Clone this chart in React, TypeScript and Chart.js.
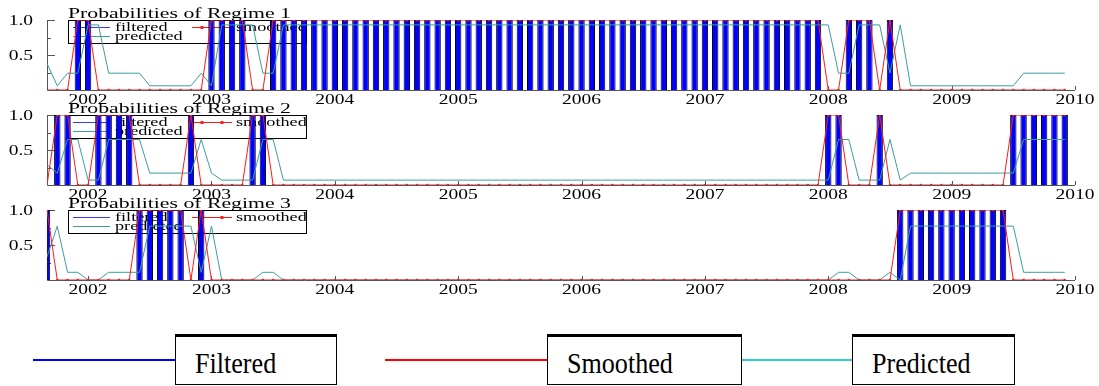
import React, { useEffect, useRef } from 'react';
import { Chart, registerables } from 'chart.js';

Chart.register(...registerables);

// Monthly observations: index 0 = Sep 2001 ... index 99 = Dec 2009
const yearTickIndex = [4, 16, 28, 40, 52, 64, 76, 88, 100];
const yearTickLabels = ['2002', '2003', '2004', '2005', '2006', '2007', '2008', '2009', '2010'];
const yTickValues = [0.5, 1.0];
const yTickLabels = ['0.5', '1.0'];
const panelTitles = ['Probabilities of Regime 1', 'Probabilities of Regime 2', 'Probabilities of Regime 3'];
const seriesNames = ['Filtered', 'Smoothed', 'Predicted'];
const panelSeriesNames = ['filtered', 'smoothed', 'predicted'];

const filtered1 = [
  0, 0, 0, 1, 1, 0, 0, 0, 0, 0,
  0, 0, 0, 0, 0, 0, 1, 1, 1, 1,
  0, 0, 1, 1, 1, 1, 1, 1, 1, 1,
  1, 1, 1, 1, 1, 1, 1, 1, 1, 1,
  1, 1, 1, 1, 1, 1, 1, 1, 1, 1,
  1, 1, 1, 1, 1, 1, 1, 1, 1, 1,
  1, 1, 1, 1, 1, 1, 1, 1, 1, 1,
  1, 1, 1, 1, 1, 1, 0, 0, 1, 1,
  1, 0, 1, 0, 0, 0, 0, 0, 0, 0,
  0, 0, 0, 0, 0, 0, 0, 0, 0, 0,
];
const smoothed1 = [
  0, 0, 0, 1, 1, 0, 0, 0, 0, 0,
  0, 0, 0, 0, 0, 0, 1, 1, 1, 1,
  0, 0, 1, 1, 1, 1, 1, 1, 1, 1,
  1, 1, 1, 1, 1, 1, 1, 1, 1, 1,
  1, 1, 1, 1, 1, 1, 1, 1, 1, 1,
  1, 1, 1, 1, 1, 1, 1, 1, 1, 1,
  1, 1, 1, 1, 1, 1, 1, 1, 1, 1,
  1, 1, 1, 1, 1, 1, 0, 0, 1, 1,
  1, 0, 1, 0, 0, 0, 0, 0, 0, 0,
  0, 0, 0, 0, 0, 0, 0, 0, 0, 0,
];
const predicted1 = [
  0.38, 0.06, 0.24, 0.24, 0.93, 0.93, 0.24, 0.24, 0.24, 0.24,
  0.06, 0.06, 0.06, 0.06, 0.06, 0.24, 0.06, 0.93, 0.93, 0.93,
  0.93, 0.24, 0.24, 0.93, 0.93, 0.93, 0.93, 0.93, 0.93, 0.93,
  0.93, 0.93, 0.93, 0.93, 0.93, 0.93, 0.93, 0.93, 0.93, 0.93,
  0.93, 0.93, 0.93, 0.93, 0.93, 0.93, 0.93, 0.93, 0.93, 0.93,
  0.93, 0.93, 0.93, 0.93, 0.93, 0.93, 0.93, 0.93, 0.93, 0.93,
  0.93, 0.93, 0.93, 0.93, 0.93, 0.93, 0.93, 0.93, 0.93, 0.93,
  0.93, 0.93, 0.93, 0.93, 0.93, 0.93, 0.93, 0.24, 0.24, 0.93,
  0.93, 0.93, 0.24, 0.93, 0.06, 0.06, 0.06, 0.06, 0.06, 0.06,
  0.06, 0.06, 0.06, 0.06, 0.06, 0.24, 0.24, 0.24, 0.24, 0.24,
];

const filtered2 = [
  0, 1, 1, 0, 0, 1, 1, 1, 1, 0,
  0, 0, 0, 0, 1, 0, 0, 0, 0, 0,
  1, 1, 0, 0, 0, 0, 0, 0, 0, 0,
  0, 0, 0, 0, 0, 0, 0, 0, 0, 0,
  0, 0, 0, 0, 0, 0, 0, 0, 0, 0,
  0, 0, 0, 0, 0, 0, 0, 0, 0, 0,
  0, 0, 0, 0, 0, 0, 0, 0, 0, 0,
  0, 0, 0, 0, 0, 0, 1, 1, 0, 0,
  0, 1, 0, 0, 0, 0, 0, 0, 0, 0,
  0, 0, 0, 0, 1, 1, 1, 1, 1, 1,
];
const smoothed2 = [
  0, 1, 1, 0, 0, 1, 1, 1, 1, 0,
  0, 0, 0, 0, 1, 0, 0, 0, 0, 0,
  1, 1, 0, 0, 0, 0, 0, 0, 0, 0,
  0, 0, 0, 0, 0, 0, 0, 0, 0, 0,
  0, 0, 0, 0, 0, 0, 0, 0, 0, 0,
  0, 0, 0, 0, 0, 0, 0, 0, 0, 0,
  0, 0, 0, 0, 0, 0, 0, 0, 0, 0,
  0, 0, 0, 0, 0, 0, 1, 1, 0, 0,
  0, 1, 0, 0, 0, 0, 0, 0, 0, 0,
  0, 0, 0, 0, 1, 1, 1, 1, 1, 1,
];
const predicted2 = [
  0.29, 0.17, 0.65, 0.65, 0.07, 0.07, 0.65, 0.65, 0.65, 0.65,
  0.17, 0.17, 0.17, 0.17, 0.17, 0.65, 0.17, 0.07, 0.07, 0.07,
  0.07, 0.65, 0.65, 0.07, 0.07, 0.07, 0.07, 0.07, 0.07, 0.07,
  0.07, 0.07, 0.07, 0.07, 0.07, 0.07, 0.07, 0.07, 0.07, 0.07,
  0.07, 0.07, 0.07, 0.07, 0.07, 0.07, 0.07, 0.07, 0.07, 0.07,
  0.07, 0.07, 0.07, 0.07, 0.07, 0.07, 0.07, 0.07, 0.07, 0.07,
  0.07, 0.07, 0.07, 0.07, 0.07, 0.07, 0.07, 0.07, 0.07, 0.07,
  0.07, 0.07, 0.07, 0.07, 0.07, 0.07, 0.07, 0.65, 0.65, 0.07,
  0.07, 0.07, 0.65, 0.07, 0.17, 0.17, 0.17, 0.17, 0.17, 0.17,
  0.17, 0.17, 0.17, 0.17, 0.17, 0.65, 0.65, 0.65, 0.65, 0.65,
];

const filtered3 = [
  1, 0, 0, 0, 0, 0, 0, 0, 0, 1,
  1, 1, 1, 1, 0, 1, 0, 0, 0, 0,
  0, 0, 0, 0, 0, 0, 0, 0, 0, 0,
  0, 0, 0, 0, 0, 0, 0, 0, 0, 0,
  0, 0, 0, 0, 0, 0, 0, 0, 0, 0,
  0, 0, 0, 0, 0, 0, 0, 0, 0, 0,
  0, 0, 0, 0, 0, 0, 0, 0, 0, 0,
  0, 0, 0, 0, 0, 0, 0, 0, 0, 0,
  0, 0, 0, 1, 1, 1, 1, 1, 1, 1,
  1, 1, 1, 1, 0, 0, 0, 0, 0, 0,
];
const smoothed3 = [
  1, 0, 0, 0, 0, 0, 0, 0, 0, 1,
  1, 1, 1, 1, 0, 1, 0, 0, 0, 0,
  0, 0, 0, 0, 0, 0, 0, 0, 0, 0,
  0, 0, 0, 0, 0, 0, 0, 0, 0, 0,
  0, 0, 0, 0, 0, 0, 0, 0, 0, 0,
  0, 0, 0, 0, 0, 0, 0, 0, 0, 0,
  0, 0, 0, 0, 0, 0, 0, 0, 0, 0,
  0, 0, 0, 0, 0, 0, 0, 0, 0, 0,
  0, 0, 0, 1, 1, 1, 1, 1, 1, 1,
  1, 1, 1, 1, 0, 0, 0, 0, 0, 0,
];
const predicted3 = [
  0.33, 0.77, 0.11, 0.11, 0.0, 0.0, 0.11, 0.11, 0.11, 0.11,
  0.77, 0.77, 0.77, 0.77, 0.77, 0.11, 0.77, 0.0, 0.0, 0.0,
  0.0, 0.11, 0.11, 0.0, 0.0, 0.0, 0.0, 0.0, 0.0, 0.0,
  0.0, 0.0, 0.0, 0.0, 0.0, 0.0, 0.0, 0.0, 0.0, 0.0,
  0.0, 0.0, 0.0, 0.0, 0.0, 0.0, 0.0, 0.0, 0.0, 0.0,
  0.0, 0.0, 0.0, 0.0, 0.0, 0.0, 0.0, 0.0, 0.0, 0.0,
  0.0, 0.0, 0.0, 0.0, 0.0, 0.0, 0.0, 0.0, 0.0, 0.0,
  0.0, 0.0, 0.0, 0.0, 0.0, 0.0, 0.0, 0.11, 0.11, 0.0,
  0.0, 0.0, 0.11, 0.0, 0.77, 0.77, 0.77, 0.77, 0.77, 0.77,
  0.77, 0.77, 0.77, 0.77, 0.77, 0.11, 0.11, 0.11, 0.11, 0.11,
];

const SERIF = '"Liberation Serif", "Times New Roman", serif';
const BAR_BLUE = '#0000ff';
const RED = '#ff1a1a';
const TEAL = '#3c9e9e';

function drawText(ctx: any, text: string, x: number, y: number, size: number, sx: number, align: string, baseline: string) {
  ctx.save();
  ctx.translate(x, y);
  ctx.scale(sx, 1);
  ctx.font = `${size}px ${SERIF}`;
  ctx.textAlign = align;
  ctx.textBaseline = baseline;
  ctx.fillStyle = '#000';
  ctx.fillText(text, 0, 0);
  ctx.restore();
}

function Panel({ title, filtered, smoothed, predicted, top }: any) {
  const ref = useRef<HTMLCanvasElement | null>(null);
  useEffect(() => {
    const canvas = ref.current;
    if (!canvas) return;
    const decor = {
      id: 'decor',
      beforeDatasetsDraw(chart: any) {
        const { ctx, chartArea: a, scales } = chart;
        const t = a.top;
        ctx.save();
        // in-panel legend box (drawn under the data)
        ctx.fillStyle = '#fff';
        ctx.fillRect(68, t + 0.5, 238, 23);
        ctx.strokeStyle = '#000';
        ctx.lineWidth = 1;
        ctx.strokeRect(68.5, t + 0.5, 238, 23);
        ctx.strokeStyle = '#3a3aff';
        ctx.beginPath(); ctx.moveTo(73, t + 7.5); ctx.lineTo(110, t + 7.5); ctx.stroke();
        ctx.strokeStyle = TEAL;
        ctx.beginPath(); ctx.moveTo(73, t + 16.5); ctx.lineTo(110, t + 16.5); ctx.stroke();
        ctx.strokeStyle = RED;
        ctx.beginPath(); ctx.moveTo(192, t + 7.5); ctx.lineTo(232, t + 7.5); ctx.stroke();
        ctx.fillStyle = RED;
        ctx.fillRect(200.5, t + 6, 3, 3);
        ctx.fillRect(220.5, t + 6, 3, 3);
        drawText(ctx, panelSeriesNames[0], 115, t + 7.5, 13, 1.4, 'left', 'middle');
        drawText(ctx, panelSeriesNames[2], 115, t + 16.5, 13, 1.4, 'left', 'middle');
        drawText(ctx, panelSeriesNames[1], 236, t + 7.5, 13, 1.4, 'left', 'middle');

        // axes
        const x = scales.x;
        const y = scales.y;
        ctx.strokeStyle = '#555';
        ctx.lineWidth = 1;
        ctx.beginPath();
        ctx.moveTo(a.left + 0.5, a.top);
        ctx.lineTo(a.left + 0.5, a.bottom + 0.5);
        ctx.lineTo(a.right, a.bottom + 0.5);
        ctx.stroke();
        // y ticks (inward)
        [0.25, 0.5, 0.75, 1.0].forEach((v) => {
          const py = Math.round(y.getPixelForValue(v)) + 0.5;
          const len = v === 0.5 || v === 1.0 ? 8 : 4;
          ctx.beginPath(); ctx.moveTo(a.left, py); ctx.lineTo(a.left + len, py); ctx.stroke();
        });
        // x ticks (inward)
        yearTickIndex.forEach((v) => {
          const px = Math.round(x.getPixelForValue(v)) + 0.5;
          ctx.beginPath(); ctx.moveTo(px, a.bottom); ctx.lineTo(px, a.bottom - 4); ctx.stroke();
        });
        ctx.restore();
      },
      afterDraw(chart: any) {
        const { ctx, chartArea: a, scales } = chart;
        const x = scales.x;
        const y = scales.y;
        yTickValues.forEach((v, i) => {
          drawText(ctx, yTickLabels[i], 33, y.getPixelForValue(v) + 1, 15, 1.3, 'right', 'middle');
        });
        yearTickIndex.forEach((v, i) => {
          drawText(ctx, yearTickLabels[i], x.getPixelForValue(v), a.bottom + 10, 15, 1.3, 'center', 'middle');
        });
        drawText(ctx, title, 68, a.top - 2, 14.5, 1.5, 'left', 'alphabetic');
      },
    };

    const chart = new Chart(canvas, {
      data: {
        datasets: [
          {
            type: 'line',
            label: panelSeriesNames[1],
            data: smoothed.map((v: number, i: number) => ({ x: i, y: v })),
            borderColor: RED,
            borderWidth: 1,
            pointRadius: 1.6,
            pointStyle: 'rect',
            pointBackgroundColor: RED,
            pointBorderWidth: 0,
            tension: 0,
            order: 1,
          },
          {
            type: 'line',
            label: panelSeriesNames[2],
            data: predicted.map((v: number, i: number) => ({ x: i, y: v })),
            borderColor: TEAL,
            borderWidth: 1,
            pointRadius: 0,
            tension: 0,
            order: 2,
          },
          {
            type: 'bar',
            label: panelSeriesNames[0],
            data: filtered.map((v: number, i: number) => ({ x: i, y: v > 0 ? v : null })),
            backgroundColor: BAR_BLUE,
            borderColor: '#000',
            borderWidth: 1,
            barPercentage: 0.62,
            categoryPercentage: 1,
            order: 3,
          },
        ],
      } as any,
      options: {
        responsive: false,
        animation: false,
        devicePixelRatio: 1,
        layout: { padding: { left: 0, right: 24, top: 20, bottom: 0 } },
        plugins: { legend: { display: false }, tooltip: { enabled: false }, title: { display: false } },
        scales: {
          x: {
            type: 'linear',
            offset: false,
            min: 0,
            max: 100,
            grid: { display: false, offset: false },
            border: { display: false },
            ticks: { display: false },
            afterFit: (s: any) => { s.height = 20; },
          },
          y: {
            type: 'linear',
            min: 0,
            max: 1,
            grid: { display: false },
            border: { display: false },
            ticks: { display: false },
            afterFit: (s: any) => { s.width = 47; },
          },
        },
      } as any,
      plugins: [decor],
    });
    return () => chart.destroy();
  }, [title, filtered, smoothed, predicted]);

  return (
    <canvas
      ref={ref}
      width={1099}
      height={110}
      style={{ position: 'absolute', left: 0, top, width: 1099, height: 110 }}
    />
  );
}

function BottomLegend() {
  const line = (left: number, width: number, color: string) => (
    <div style={{ position: 'absolute', left, top: 359, width, height: 2, background: color }} />
  );
  const box = (left: number, width: number, text: string) => (
    <div
      style={{
        position: 'absolute',
        left,
        top: 334,
        width,
        height: 51,
        boxSizing: 'border-box',
        border: '1px solid #000',
        borderTop: '3px solid #000',
        background: '#fff',
        color: '#000',
        whiteSpace: 'nowrap',
      }}
    >
      <span
        style={{
          position: 'absolute',
          left: 19,
          top: 0,
          fontFamily: SERIF,
          fontSize: 29,
          lineHeight: '52px',
          display: 'inline-block',
          transform: 'scaleX(0.9)',
          transformOrigin: 'left center',
        }}
      >
        {text}
      </span>
    </div>
  );
  return (
    <>
      {line(33, 142, '#0000ff')}
      {box(175, 162, seriesNames[0])}
      {line(385, 162, '#ff0000')}
      {box(547, 195, seriesNames[1])}
      {line(742, 110, '#33cccc')}
      {box(852, 163, seriesNames[2])}
    </>
  );
}

export default function App() {
  return (
    <div style={{ position: 'absolute', left: 0, top: 0, width: 1099, height: 386, background: '#fff', overflow: 'hidden' }}>
      <Panel title={panelTitles[0]} filtered={filtered1} smoothed={smoothed1} predicted={predicted1} top={0} />
      <Panel title={panelTitles[1]} filtered={filtered2} smoothed={smoothed2} predicted={predicted2} top={95} />
      <Panel title={panelTitles[2]} filtered={filtered3} smoothed={smoothed3} predicted={predicted3} top={190} />
      <BottomLegend />
    </div>
  );
}
